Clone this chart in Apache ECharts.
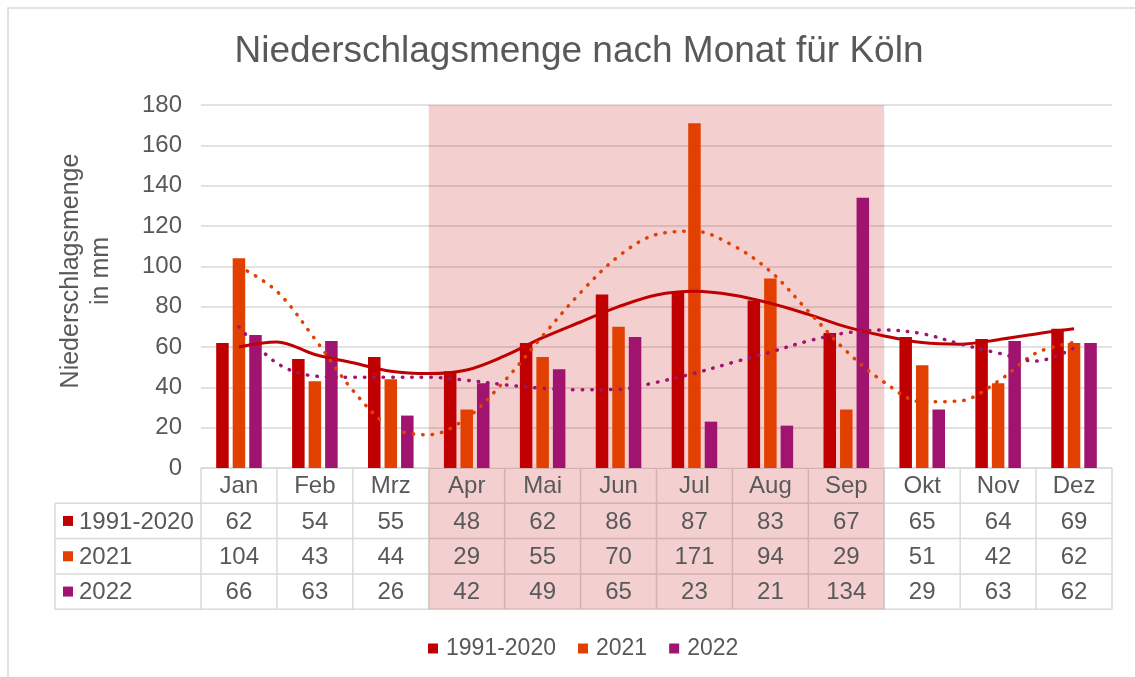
<!DOCTYPE html>
<html>
<head>
<meta charset="utf-8">
<script src="https://cdn.jsdelivr.net/npm/echarts@6/dist/echarts.min.js"></script>
<style>
html,body{margin:0;padding:0;background:#fff;}
#chart{width:1135px;height:677px;}
</style>
</head>
<body>
<div id="chart"></div>
<script>
// ---------- data ----------
const months = ['Jan','Feb','Mrz','Apr','Mai','Jun','Jul','Aug','Sep','Okt','Nov','Dez'];
const seriesNames = ['1991-2020','2021','2022'];
const values1991 = [62,54,55,48,62,86,87,83,67,65,64,69];
const values2021 = [104,43,44,29,55,70,171,94,29,51,42,62];
const values2022 = [66,63,26,42,49,65,23,21,134,29,63,62];
const yMin = 0, yMax = 180, yStep = 20;
const summerFrom = 'Apr', summerTo = 'Sep';
const chartTitle = 'Niederschlagsmenge nach Monat für Köln';
const yTitle = 'Niederschlagsmenge\nin mm';
// trend lines (month index 0 = Jan)
const trendPos = [0,0.5,1,1.5,2,2.5,3,3.5,4,4.5,5,5.5,6,6.5,7,7.5,8,8.5,9,9.5,10,10.5,11];
const trend1991 = [60,62.5,56.3,52.2,48,46.8,48.6,55.6,64.6,72.4,80,85.8,87.6,85.8,81.7,76.2,70,65.5,62.2,61.4,63.6,66.5,69];
const trend2021 = [100,87.6,64,38.5,20.3,16.5,24.8,43.3,65.5,87,105,115.8,117.4,110.5,97.5,77.7,58,42.5,32.8,33.3,43,57,62.3];
const trend2022 = [70,52,45.6,45,45,45,43.5,41.3,39.5,38.8,39,42.5,47,52.3,57.5,63,67,68.4,66.6,61.5,57,53,59.5];

// ---------- style ----------
const FONT = "'Liberation Sans', Arial, sans-serif";
const GRAY = '#595959';
const LINE = '#D9D9D9';
const COLORS = ['#C00000', '#E24000', '#A0146F'];
const PINK = 'rgba(192,0,0,0.19)';
const ROW = 35.3;
const TABLE_LEFT = 55;

const allValues = [values1991, values2021, values2022];
const allTrends = [trend1991, trend2021, trend2022];

const chart = echarts.init(document.getElementById('chart'), null, {renderer: 'canvas'});

const series = [];
allValues.forEach((vals, i) => {
  series.push({
    type: 'bar', name: seriesNames[i], data: vals,
    xAxisIndex: 0, yAxisIndex: 0,
    itemStyle: {color: COLORS[i]},
    barGap: '32%', barCategoryGap: '40%', z: 3
  });
});
allTrends.forEach((tr, i) => {
  series.push({
    type: 'line', name: 'Trend ' + seriesNames[i],
    xAxisIndex: 1, yAxisIndex: 0,
    data: trendPos.map((p, k) => [p, tr[k]]),
    smooth: 0.35, showSymbol: false, silent: true, z: 4,
    lineStyle: i === 0
      ? {color: COLORS[i], width: 3}
      : {color: COLORS[i], width: 3.5, type: [0.5, 9], cap: 'round'}
  });
});
series.push({
  type: 'line', name: 'summer', xAxisIndex: 1, yAxisIndex: 0, data: [], z: 1, silent: true,
  markArea: {
    silent: true,
    itemStyle: {color: PINK},
    data: [[{xAxis: months.indexOf(summerFrom) - 0.5}, {xAxis: months.indexOf(summerTo) + 0.5}]]
  }
});

const option = {
  animation: false,
  textStyle: {fontFamily: FONT},
  title: {
    text: chartTitle, left: 574, textAlign: 'center', top: 28,
    textStyle: {fontSize: 37, fontWeight: 'normal', color: GRAY, fontFamily: FONT}
  },
  legend: {
    data: seriesNames, left: 423, top: 632, icon: 'rect',
    itemWidth: 10, itemHeight: 10, itemGap: 22,
    textStyle: {fontSize: 23, color: GRAY, fontFamily: FONT, padding: [0, 0, 0, 3]}
  },
  grid: {left: 201, right: 23, top: 105, bottom: 209},
  xAxis: [
    {type: 'category', data: months, axisLine: {show: false}, axisTick: {show: false}, axisLabel: {show: false}},
    {type: 'value', min: -0.5, max: 11.5, show: false}
  ],
  yAxis: {
    type: 'value', min: yMin, max: yMax, interval: yStep,
    axisLine: {show: false}, axisTick: {show: false},
    axisLabel: {fontSize: 24, color: GRAY, margin: 19, fontFamily: FONT},
    splitLine: {lineStyle: {color: LINE, width: 1.5}}
  },
  series: series
};
chart.setOption(option);

// ---------- data table below the plot, positioned through the axes ----------
const px = v => chart.convertToPixel({xAxisIndex: 1}, v);
const yTop = chart.convertToPixel({yAxisIndex: 0}, yMin);
const xLeft = px(-0.5), xRight = px(months.length - 0.5);
const g = [];

// outer frame
g.push({type: 'rect', shape: {x: 8, y: 8, width: 1400, height: 1000}, style: {fill: 'none', stroke: LINE, lineWidth: 1.5}, z: 0});

// horizontal lines
g.push({type: 'line', shape: {x1: xLeft, y1: yTop, x2: xRight, y2: yTop}, style: {stroke: LINE, lineWidth: 1.5}, z: 1});
for (let k = 1; k <= 4; k++) {
  g.push({type: 'line', shape: {x1: TABLE_LEFT, y1: yTop + ROW * k, x2: xRight, y2: yTop + ROW * k}, style: {stroke: LINE, lineWidth: 1.5}, z: 1});
}
// vertical lines
for (let i = 0; i <= months.length; i++) {
  const x = px(i - 0.5);
  g.push({type: 'line', shape: {x1: x, y1: yTop, x2: x, y2: yTop + ROW * 4}, style: {stroke: LINE, lineWidth: 1.5}, z: 1});
}
g.push({type: 'line', shape: {x1: TABLE_LEFT, y1: yTop + ROW, x2: TABLE_LEFT, y2: yTop + ROW * 4}, style: {stroke: LINE, lineWidth: 1.5}, z: 1});

// pink band in table
const pA = px(months.indexOf(summerFrom) - 0.5), pB = px(months.indexOf(summerTo) + 0.5);
g.push({type: 'rect', shape: {x: pA, y: yTop, width: pB - pA, height: ROW * 4}, style: {fill: PINK}, z: 2});

// month header
months.forEach((m, i) => {
  g.push({type: 'text', x: chart.convertToPixel({xAxisIndex: 0}, m), y: yTop + ROW / 2 + 1, z: 3,
    style: {text: m, fill: GRAY, font: '24px ' + FONT, align: 'center', verticalAlign: 'middle'}});
});
// rows
allValues.forEach((vals, r) => {
  const cy = yTop + ROW * (r + 1) + ROW / 2 + 1;
  g.push({type: 'rect', shape: {x: 63, y: cy - 6, width: 10, height: 10}, style: {fill: COLORS[r]}, z: 3});
  g.push({type: 'text', x: 79, y: cy, z: 3,
    style: {text: seriesNames[r], fill: GRAY, font: '24px ' + FONT, align: 'left', verticalAlign: 'middle'}});
  vals.forEach((v, i) => {
    g.push({type: 'text', x: chart.convertToPixel({xAxisIndex: 0}, months[i]), y: cy, z: 3,
      style: {text: String(v), fill: GRAY, font: '24px ' + FONT, align: 'center', verticalAlign: 'middle'}});
  });
});

// y axis title
g.push({type: 'text', x: 86, y: 271, rotation: Math.PI / 2, z: 3,
  style: {text: yTitle, fill: GRAY, font: '25px ' + FONT, align: 'center', verticalAlign: 'middle', lineHeight: 30}});

chart.setOption({graphic: {elements: g}});
</script>
</body>
</html>
